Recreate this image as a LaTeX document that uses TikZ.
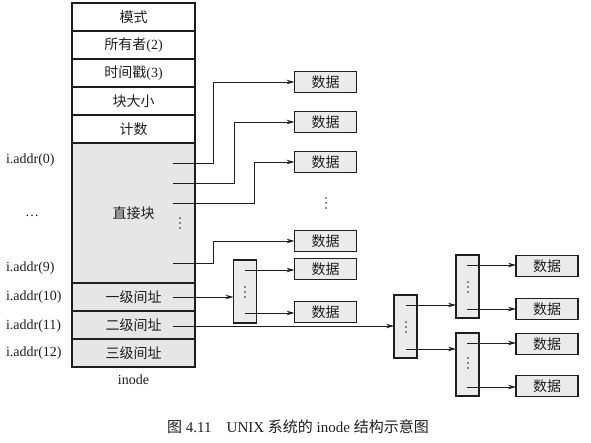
\documentclass[tikz,border=0pt]{standalone}
\usepackage{fontspec}
\setmainfont{Liberation Serif}
\newfontfamily\cjk{Noto Sans CJK SC}
\usetikzlibrary{arrows.meta}
\definecolor{cellgray}{HTML}{E6E6E6}
\definecolor{boxgray}{HTML}{EBEBEB}
\definecolor{ink}{HTML}{1E1E1E}

\begin{document}
\begin{tikzpicture}[x=1pt,y=-1pt,
  font=\fontsize{14}{16}\selectfont,
  every node/.style={inner sep=0pt, outer sep=0pt, text=ink},
  cell/.style={draw=ink, line width=1.1pt, minimum width=123pt,
               minimum height=28pt, anchor=north},
  greycell/.style={cell, fill=cellgray},
  databox/.style={draw=ink, line width=1.4pt, fill=boxgray,
                  minimum width=62pt, minimum height=21pt},
  ptrbox/.style={draw=ink, line width=1.2pt, fill=boxgray,
                 minimum width=23pt, minimum height=63pt},
  arr/.style={draw=ink, line width=0.8pt, -{Stealth[length=8pt,width=4.5pt]}},
  lbl/.style={anchor=west},
  % a vertical ellipsis: three small dots around the given point
  vdots/.pic={\foreach \k in {-5,0,5} \fill[ink] (0,\k) circle (0.9pt);}
]
\useasboundingbox (0,0) rectangle (591,442);

% inode table
\node[cell] (mode)  at (133.5,3)   {\cjk 模式};
\node[cell] (owner) at (mode.south)  {{\cjk 所有者}(2)};
\node[cell] (stamp) at (owner.south) {{\cjk 时间戳}(3)};
\node[cell] (bsize) at (stamp.south) {\cjk 块大小};
\node[cell] (count) at (bsize.south) {\cjk 计数};
\node[greycell, minimum height=140pt] (direct) at (count.south) {\cjk 直接块};
\node[greycell] (ind1) at (direct.south) {\cjk 一级间址};
\node[greycell] (ind2) at (ind1.south) {\cjk 二级间址};
\node[greycell] (ind3) at (ind2.south) {\cjk 三级间址};
\node (inodelbl) at (133.5,380) {inode};
\pic at (180,223) {vdots};

% address labels
\node[lbl] (a0)  at (6,160) {i.addr(0)};
\node      (adots) at (32,216) {\dots};
\node[lbl] (a9)  at (6,268) {i.addr(9)};
\node[lbl] (a10) at (6,297) {i.addr(10)};
\node[lbl] (a11) at (6,326) {i.addr(11)};
\node[lbl] (a12) at (6,353) {i.addr(12)};

% direct data blocks
\node[databox] (d1) at (325.5,82)  {\cjk 数据};
\node[databox] (d2) at (325.5,122) {\cjk 数据};
\node[databox] (d3) at (325.5,162) {\cjk 数据};
\pic at (326,203) {vdots};
\node[databox] (d4) at (325.5,241) {\cjk 数据};

\coordinate (p0) at (173,163);
\coordinate (p1) at (173,183);
\coordinate (p2) at (173,203);
\coordinate (p9) at (173,263);
\draw[arr] (p0) -| ([xshift=-81pt]d1.west) -- (d1.west);
\draw[arr] (p1) -| ([xshift=-60pt]d2.west) -- (d2.west);
\draw[arr] (p2) -| ([xshift=-40pt]d3.west) -- (d3.west);
\draw[arr] (p9) -| ([xshift=-81pt]d4.west) -- (d4.west);

% single indirect
\node[ptrbox] (s1) at (245,291.5) {};
\pic at (245,292) {vdots};
\node[databox] (e1) at (325.5,269) {\cjk 数据};
\node[databox] (e2) at (325.5,312) {\cjk 数据};
\coordinate (p10) at (173,297);
\coordinate (s1a) at (245,270);
\coordinate (s1b) at (245,313);
\draw[arr] (p10) -- (p10 -| s1.west);
\draw[arr] (s1a) -- (s1a -| e1.west);
\draw[arr] (s1b) -- (s1b -| e2.west);

% double indirect
\node[ptrbox] (t1) at (405.5,326.5) {};
\pic at (406,327) {vdots};
\node[ptrbox] (t2) at (467.5,286.5) {};
\pic at (468,287) {vdots};
\node[ptrbox] (t3) at (467.5,364.5) {};
\pic at (468,363) {vdots};
\node[databox] (f1) at (547,266) {\cjk 数据};
\node[databox] (f2) at (547,309) {\cjk 数据};
\node[databox] (f3) at (547,344) {\cjk 数据};
\node[databox] (f4) at (547,386) {\cjk 数据};

\coordinate (p11) at (173,326);
\coordinate (t1a) at (406,305);
\coordinate (t1b) at (406,349);
\coordinate (t2a) at (467,265);
\coordinate (t2b) at (467,309);
\coordinate (t3a) at (467,343);
\coordinate (t3b) at (467,387);
\draw[arr] (p11) -- (p11 -| t1.west);
\draw[arr] (t1a) -- (t1a -| t2.west);
\draw[arr] (t1b) -- (t1b -| t3.west);
\draw[arr] (t2a) -- (t2a -| f1.west);
\draw[arr] (t2b) -- (t2b -| f2.west);
\draw[arr] (t3a) -- (t3a -| f3.west);
\draw[arr] (t3b) -- (t3b -| f4.west);

% caption
\node[font=\fontsize{15}{17}\selectfont] (caption) at (298,427)
  {{\cjk 图} 4.11\quad UNIX {\cjk 系统的} inode {\cjk 结构示意图}};
\end{tikzpicture}
\end{document}
